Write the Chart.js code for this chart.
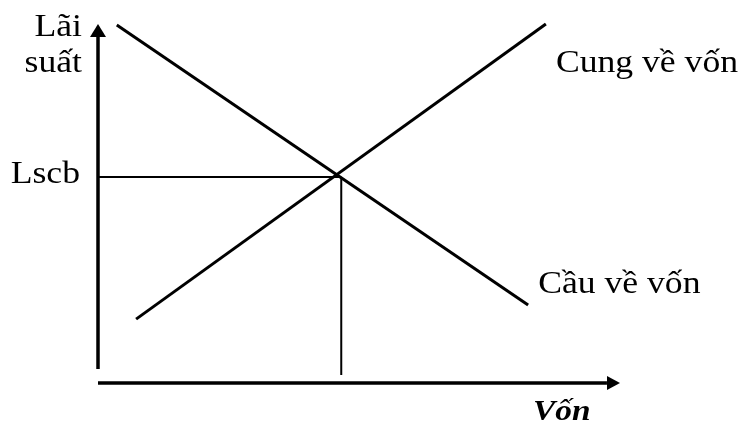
<!DOCTYPE html>
<html>
<head>
<meta charset="utf-8">
<script src="https://cdn.jsdelivr.net/npm/chart.js@4"></script>
<style>
  html, body { margin: 0; padding: 0; background: #fff; }
  #wrap { width: 740px; height: 423px; position: relative; }
</style>
</head>
<body>
<div id="wrap"><canvas id="capital"></canvas></div>
<script>
// values (x: Vốn, y: Lãi suất, both 0..10)
const supplyX = [0.73, 8.58];
const supplyY = [1.78, 10.0];
const demandX = [0.36, 8.24];
const demandY = [9.97, 2.17];
const eqX = 4.66;
const eqY = 5.74;
const yAxisFrom = 0.39;
const guideBottom = 0.22;

const supplyLabel = "Cung về vốn";
const demandLabel = "Cầu về vốn";
const eqLabel = "Lscb";
const yTitle = ["Lãi", "suất"];
const xTitle = "Vốn";

const pts = (xs, ys) => xs.map((x, i) => ({ x: x, y: ys[i] }));

function line(data, width) {
  return {
    data: data,
    showLine: true,
    borderColor: "#000",
    borderWidth: width,
    pointRadius: 0,
    borderCapStyle: "butt",
    clip: false,
  };
}

// arrowheads and texts, placed from the scales
const decor = {
  id: "decor",
  afterDatasetsDraw(chart) {
    const ctx = chart.ctx;
    const xs = chart.scales.x, ys = chart.scales.y;
    const x0 = xs.getPixelForValue(0), y0 = ys.getPixelForValue(0);
    const xEnd = xs.getPixelForValue(10), yEnd = ys.getPixelForValue(10);

    ctx.save();
    ctx.fillStyle = "#000";
    ctx.beginPath();
    ctx.moveTo(x0, yEnd);
    ctx.lineTo(x0 - 8, yEnd + 13);
    ctx.lineTo(x0 + 8, yEnd + 13);
    ctx.closePath();
    ctx.fill();
    ctx.beginPath();
    ctx.moveTo(xEnd, y0);
    ctx.lineTo(xEnd - 13, y0 - 7);
    ctx.lineTo(xEnd - 13, y0 + 7);
    ctx.closePath();
    ctx.fill();

    function text(str, x, y, font, align) {
      ctx.save();
      ctx.font = font;
      ctx.textBaseline = "alphabetic";
      ctx.textAlign = align;
      ctx.translate(x, y);
      ctx.scale(1.15, 1);
      ctx.fillText(str, 0, 0);
      ctx.restore();
    }
    const serif = "31px 'Liberation Serif', 'Times New Roman', serif";
    text(yTitle[0], x0 - 16, yEnd + 12, serif, "right");
    text(yTitle[1], x0 - 16, yEnd + 48, serif, "right");
    text(eqLabel, x0 - 18, ys.getPixelForValue(eqY) + 6, serif, "right");
    text(supplyLabel, xs.getPixelForValue(supplyX[1]) + 10, yEnd + 48, serif, "left");
    text(demandLabel, xs.getPixelForValue(demandX[1]) + 10, ys.getPixelForValue(demandY[1]) - 12, serif, "left");
    text(xTitle, xEnd - 87, y0 + 37, "italic bold 29px 'Liberation Serif', 'Times New Roman', serif", "left");
    ctx.restore();
  },
};

new Chart(document.getElementById("capital"), {
  type: "scatter",
  data: {
    datasets: [
      line(pts([0, 0], [yAxisFrom, 9.65]), 3.5),
      line(pts([0, 9.75], [0, 0]), 3.5),
      line(pts(supplyX, supplyY), 3),
      line(pts(demandX, demandY), 3),
      line(pts([0, eqX], [eqY, eqY]), 2),
      line(pts([eqX, eqX], [eqY, guideBottom]), 2),
    ],
  },
  options: {
    responsive: true,
    maintainAspectRatio: false,
    animation: false,
    layout: { padding: { left: 98, right: 120, top: 24, bottom: 40 } },
    scales: {
      x: { type: "linear", min: 0, max: 10, display: false },
      y: { type: "linear", min: 0, max: 10, display: false },
    },
    plugins: { legend: { display: false }, tooltip: { enabled: false } },
  },
  plugins: [decor],
});
</script>
</body>
</html>
